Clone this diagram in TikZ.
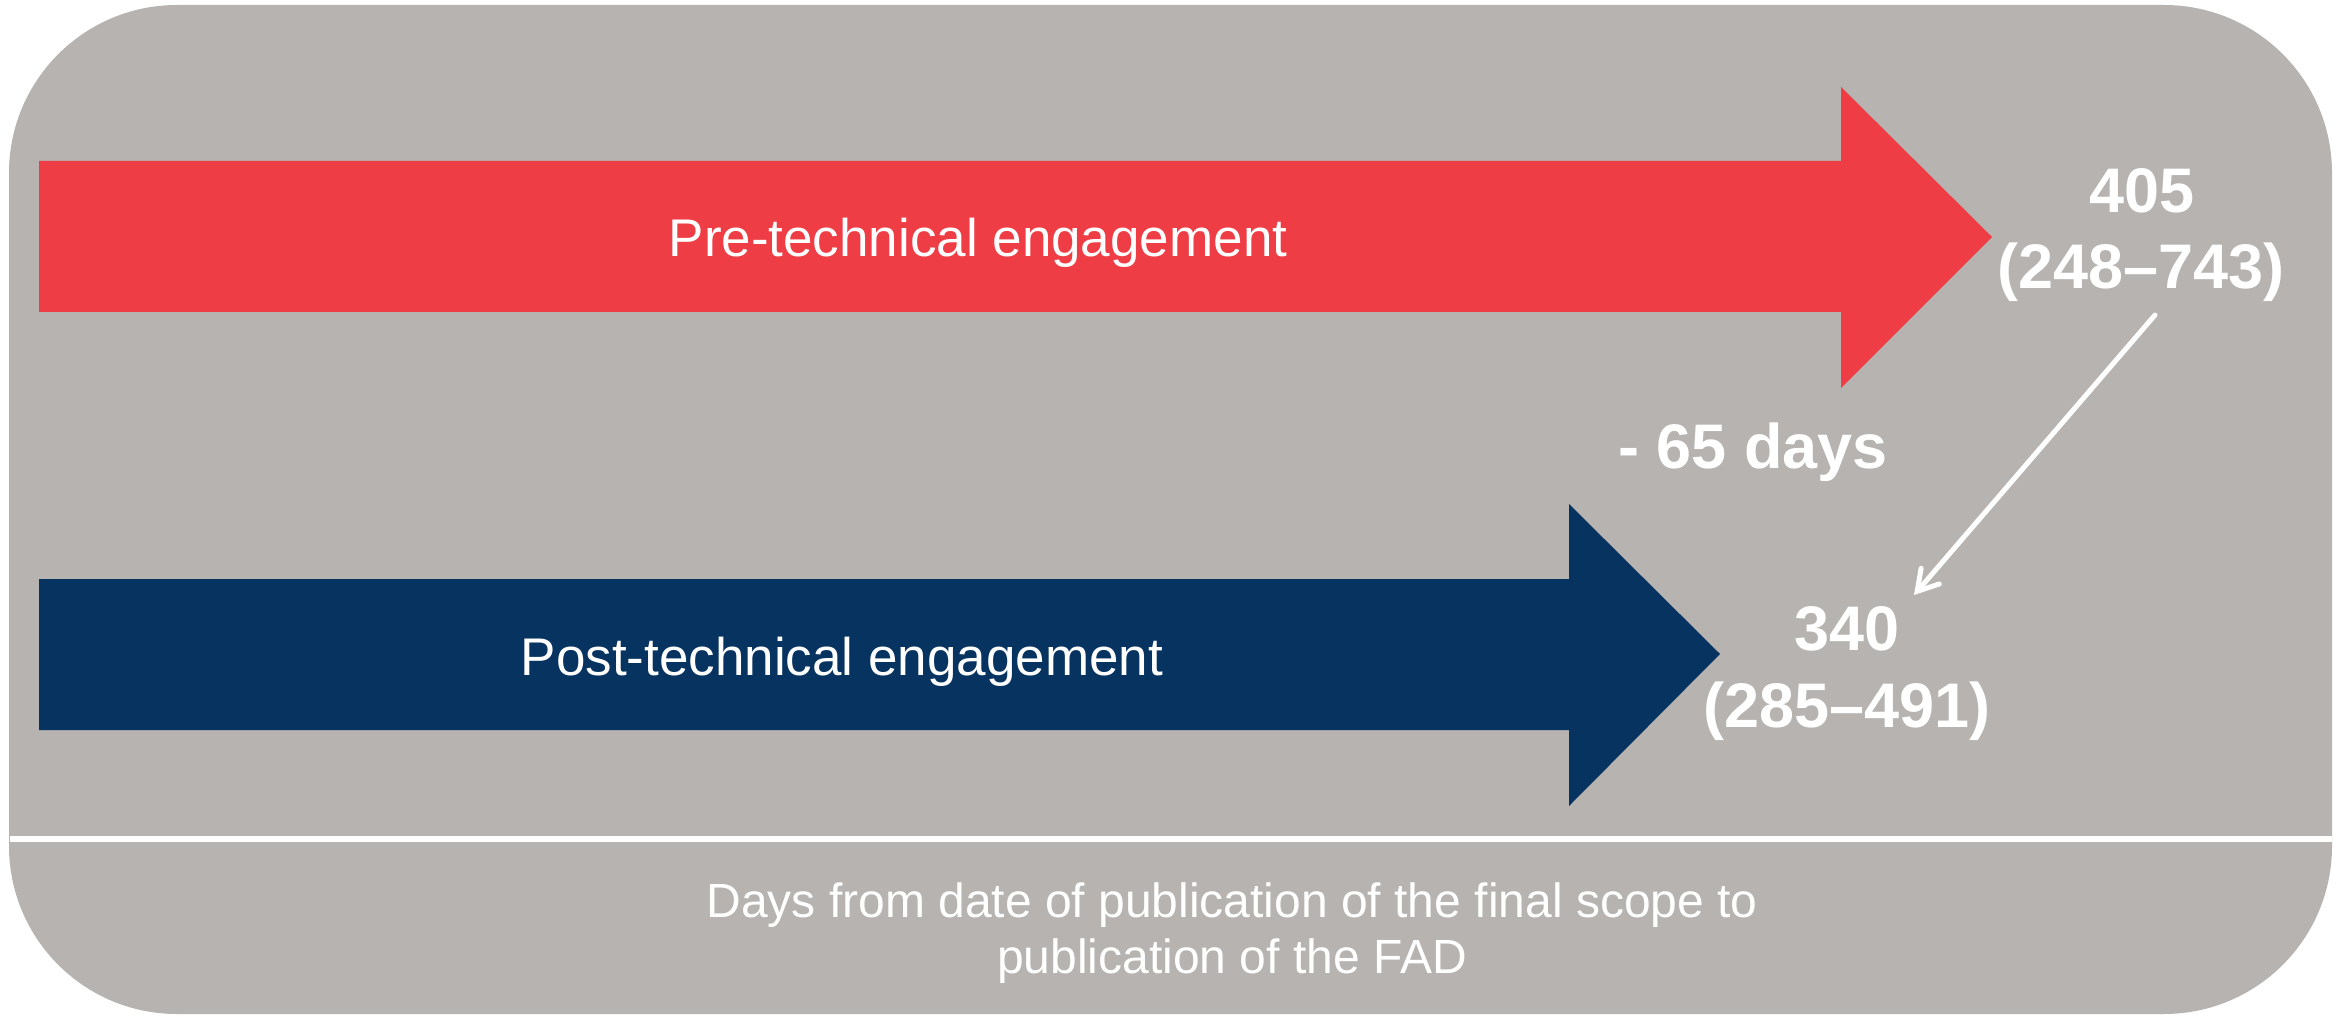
\documentclass[tikz,border=0pt]{standalone}
\usepackage{fontspec}
\setmainfont{Liberation Sans}
\usetikzlibrary{arrows.meta}
\definecolor{bggray}{RGB}{182,179,176}
\definecolor{prered}{RGB}{239,61,69}
\definecolor{postblue}{RGB}{7,51,97}
\tikzset{
  lbl/.style={text=white, inner sep=0pt, anchor=base, font=\fontsize{26.5}{30}\selectfont},
  num/.style={text=white, inner sep=0pt, anchor=base, font=\fontsize{31.5}{38}\selectfont\bfseries},
  foot/.style={text=white, inner sep=0pt, anchor=base, font=\fontsize{24}{28}\selectfont},
  diffarrow/.style={white, line width=2.5pt, line cap=round, -{Straight Barb[length=10pt,width=12pt,line cap=round]}}
}
\begin{document}
\begin{tikzpicture}[x=0.5pt, y=-0.5pt]
\useasboundingbox (0,0) rectangle (2346,1016);
% background panel
\fill[bggray, rounded corners=84pt] (9,5) rectangle (2332,1014);
% separator
\draw[white, line width=3pt] (10,839) -- (2332,839);
% red arrow
\fill[prered] (39,161) -- (1841,161) -- (1841,87) -- (1992,237) -- (1841,388) -- (1841,312) -- (39,312) -- cycle;
% blue arrow
\fill[postblue] (39,579) -- (1569,579) -- (1569,504) -- (1720,654) -- (1569,806) -- (1569,730) -- (39,730) -- cycle;
% arrow labels
\node[lbl] (pre) at (978,257) {Pre-technical engagement};
\node[lbl] (post) at (842,675) {Post-technical engagement};
% numbers
\node[num] (v405) at (2142,213) {405};
\node[num] (r405) at (2141,289) {(248–743)};
\node[num] (diff) at (1753,468) {- 65 days};
\node[num] (v340) at (1847,650) {340};
\node[num] (r340) at (1847,727) {(285–491)};
% connector
\coordinate (cstart) at (2155,315);
\coordinate (cend) at (1914,595);
\draw[diffarrow] (cstart) -- (cend);
% footer
\node[foot] (foot1) at (1232,917) {Days from date of publication of the final scope to};
\node[foot] (foot2) at (1232,973) {publication of the FAD};
\end{tikzpicture}
\end{document}
